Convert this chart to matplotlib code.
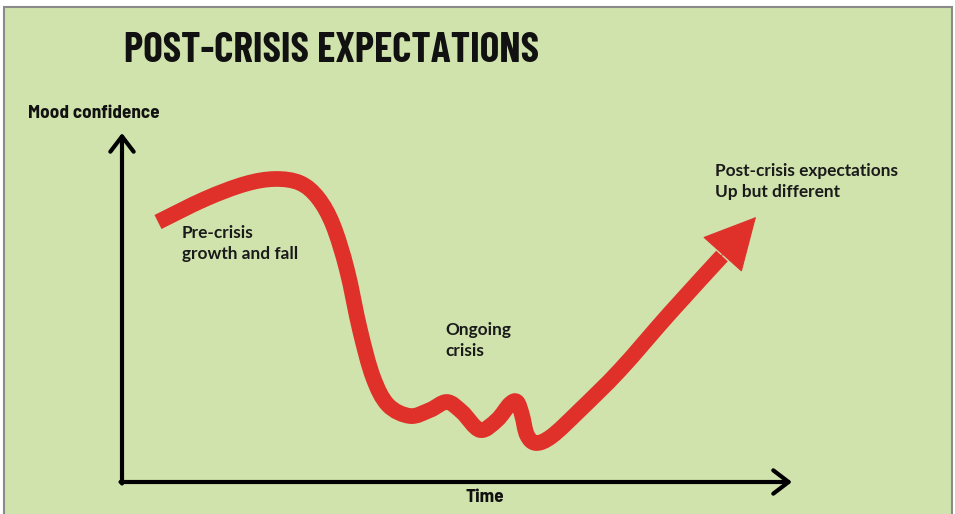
import matplotlib
matplotlib.use("Agg")
import matplotlib.pyplot as plt
from matplotlib.patches import Rectangle, PathPatch
from matplotlib.path import Path

# Schematic mood curve (x = time, y = mood) (pixel-like units)
curve_x = [158, 205, 245, 275, 300, 318, 333, 347, 360, 373, 388, 410, 430, 447, 462, 480,
           497, 510, 517, 522, 527, 536, 552, 580, 620, 670, 722]
curve_y = [222, 199, 184, 179, 183, 198, 225, 270, 330, 377, 405, 416, 410, 402, 412, 430,
           420, 404, 402, 415, 435, 443, 436, 410, 370, 313, 256]
arrow_tip = (756, 217)

title = "POST-CRISIS EXPECTATIONS"
ylabel = "Mood confidence"
xlabel = "Time"
labels = [("Pre-crisis\ngrowth and fall", 182, 225),
          ("Ongoing\ncrisis", 445, 322),
          ("Post-crisis expectations\nUp but different", 715, 163)]

W, H = 955, 514
fig = plt.figure(figsize=(W / 100, H / 100), dpi=100, facecolor="white")
ax = fig.add_axes([0, 0, 1, 1])
ax.set_xlim(0, W)
ax.set_ylim(H, 0)
ax.axis("off")

bg = "#d0e3ad"
ax.add_patch(Rectangle((4, 7), 948, 520, facecolor=bg, edgecolor="#8a8a8a", lw=1.5, zorder=0))

red = "#e0302a"
# smooth path through the read points (Catmull-Rom as cubic Bezier segments)
pts = list(zip(curve_x, curve_y))
verts = [pts[0]]
codes = [Path.MOVETO]
n = len(pts)
for i in range(n - 1):
    p0 = pts[i - 1] if i > 0 else pts[i]
    p1, p2 = pts[i], pts[i + 1]
    p3 = pts[i + 2] if i + 2 < n else pts[i + 1]
    c1 = (p1[0] + (p2[0] - p0[0]) / 6, p1[1] + (p2[1] - p0[1]) / 6)
    c2 = (p2[0] - (p3[0] - p1[0]) / 6, p2[1] - (p3[1] - p1[1]) / 6)
    verts += [c1, c2, p2]
    codes += [Path.CURVE4] * 3
ax.add_patch(PathPatch(Path(verts, codes), facecolor="none", edgecolor=red, lw=11.3,
                       capstyle="butt", joinstyle="round", zorder=3))
ax.annotate("", xy=arrow_tip, xytext=(curve_x[-2], curve_y[-2]),
            arrowprops=dict(arrowstyle="-|>,head_length=3.5,head_width=1.8", color=red, lw=0.8,
                            shrinkA=0, shrinkB=0, mutation_scale=10), zorder=3)

# axes arrows
ox, oy = 122, 482
ax.annotate("", xy=(792, oy), xytext=(ox - 1.5, oy),
            arrowprops=dict(arrowstyle="->,head_length=0.55,head_width=0.42", color="black", lw=3.0,
                            shrinkA=0, shrinkB=0, mutation_scale=20))
ax.annotate("", xy=(ox, 133), xytext=(ox, oy + 1.5),
            arrowprops=dict(arrowstyle="->,head_length=0.55,head_width=0.42", color="black", lw=3.0,
                            shrinkA=0, shrinkB=0, mutation_scale=20))

cond = ["Barlow Condensed", "DejaVu Sans"]
semi = ["Barlow Semi Condensed", "DejaVu Sans"]
ax.text(124, 51, title, fontsize=29.8, fontweight="bold", family=cond, va="center", ha="left", color="#111111")
ax.text(28, 113, ylabel, fontsize=13.8, fontweight="bold", family=semi, va="center", ha="left", color="#111111")
ax.text(485, 498, xlabel, fontsize=13.8, fontweight="bold", family=semi, va="center", ha="center", color="#111111")

for txt, x, y in labels:
    ax.text(x, y, txt, fontsize=12.4, fontweight="bold", family=["Lato", "DejaVu Sans"],
            va="top", ha="left", linespacing=1.42, color="#1a1a1a")

fig.savefig("out.png", dpi=100, facecolor="white")
